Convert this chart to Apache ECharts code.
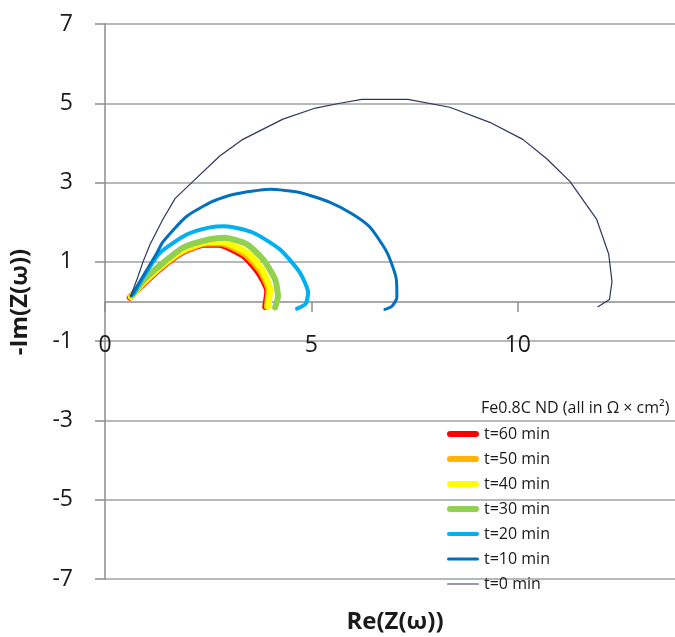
<!DOCTYPE html>
<html>
<head>
<meta charset="utf-8">
<script src="https://cdn.jsdelivr.net/npm/echarts@6/dist/echarts.min.js"></script>
<style>
  html, body { margin: 0; padding: 0; background: #fff; }
  #main { width: 675px; height: 637px; }
</style>
</head>
<body>
<div id="main"></div>
<script>
// Nyquist data, [Re, -Im] in ohm*cm2
var names = ['t=60 min', 't=50 min', 't=40 min', 't=30 min', 't=20 min', 't=10 min', 't=0 min']
var colors = ['#ff0000', '#ffb400', '#ffff00', '#92d050', '#00b0f0', '#0070c0', '#2e3560']
var widths = [6, 6, 6, 6, 4, 3, 1.2]

var t60 = [[0.6, 0.1], [0.95, 0.46], [1.4, 0.88], [1.9, 1.25], [2.4, 1.43], [2.75, 1.43], [3.35, 1.15], [3.72, 0.72], [3.93, 0.26], [3.88, -0.14]]
var t50 = [[0.62, 0.11], [0.95, 0.48], [1.4, 0.9], [1.9, 1.27], [2.45, 1.46], [2.8, 1.46], [3.4, 1.18], [3.76, 0.76], [3.96, 0.28], [3.92, -0.13]]
var t40 = [[0.63, 0.12], [0.95, 0.5], [1.4, 0.93], [1.9, 1.3], [2.5, 1.5], [2.85, 1.5], [3.44, 1.23], [3.8, 0.81], [4.0, 0.3], [3.95, -0.13]]
var t30 = [[0.65, 0.15], [0.95, 0.55], [1.41, 0.98], [1.89, 1.36], [2.54, 1.57], [2.9, 1.61], [3.44, 1.44], [3.83, 1.06], [4.12, 0.56], [4.19, 0.13], [4.12, -0.15]]
var t20 = [[0.7, 0.2], [0.95, 0.65], [1.33, 1.23], [1.98, 1.69], [2.54, 1.87], [2.9, 1.9], [3.58, 1.74], [4.24, 1.31], [4.72, 0.73], [4.92, 0.22], [4.86, -0.06], [4.65, -0.18]]
var t10 = [[0.65, 0.15], [0.9, 0.6], [1.26, 1.23], [1.4, 1.5], [1.98, 2.15], [2.62, 2.53], [3.1, 2.7], [4.0, 2.83], [4.72, 2.75], [5.45, 2.5], [6.0, 2.2], [6.42, 1.87], [6.83, 1.24], [7.05, 0.6], [7.07, 0.1], [6.95, -0.12], [6.78, -0.2]]
var t0 = [[0.62, 0.13], [0.8, 0.63], [0.92, 1.0], [1.09, 1.44], [1.4, 2.07], [1.7, 2.6], [2.1, 3.0], [2.78, 3.67], [3.34, 4.09], [4.31, 4.6], [5.1, 4.88], [5.69, 5.0], [6.22, 5.1], [7.34, 5.1], [8.35, 4.9], [9.32, 4.52], [10.12, 4.09], [10.7, 3.6], [11.26, 3.03], [11.91, 2.07], [12.2, 1.2], [12.28, 0.5], [12.22, 0.05], [11.94, -0.13]]

var allData = [t60, t50, t40, t30, t20, t10, t0]

var font = 'Open Sans'
var myChart = echarts.init(document.getElementById('main'))

// legend icon = a bar as thick as the series line
function barIcon(w) {
  var h = Math.max(w, 1)
  var r = h / 2
  return 'path://M' + r + ',0 L' + (32 - r) + ',0 A' + r + ',' + r + ' 0 0 1 ' + (32 - r) + ',' + h +
    ' L' + r + ',' + h + ' A' + r + ',' + r + ' 0 0 1 ' + r + ',0 Z'
}

var series = allData.map(function (d, i) {
  return {
    name: names[i],
    type: 'line',
    data: d,
    symbol: 'none',
    smooth: i === 6 ? false : 0.2,
    lineStyle: { color: colors[i], width: widths[i], cap: 'round', join: 'round' },
    itemStyle: { color: colors[i] }
  }
})

var option = {
  animation: false,
  grid: { left: 105, top: 24, width: 578, height: 555, outerBoundsMode: 'none', containLabel: false },
  xAxis: {
    type: 'value',
    min: 0,
    max: 14,
    interval: 5,
    position: 'bottom',
    offset: -277, // axis sits on the zero line
    axisLine: { onZero: false, lineStyle: { color: '#8c8c8c', width: 1.5 } },
    axisTick: { show: true, length: 10, lineStyle: { color: '#8c8c8c', width: 1.5 } },
    axisLabel: { margin: 32, fontSize: 23, color: '#1a1a1a', fontFamily: font, showMaxLabel: false },
    splitLine: { show: false }
  },
  yAxis: {
    type: 'value',
    min: -7,
    max: 7,
    interval: 2,
    axisLine: { show: true, lineStyle: { color: '#8c8c8c', width: 1.5 } },
    axisTick: { show: true, length: 10, lineStyle: { color: '#8c8c8c', width: 1.5 } },
    axisLabel: { margin: 32, fontSize: 23, color: '#1a1a1a', fontFamily: font },
    splitLine: { show: true, lineStyle: { color: '#a0a0a0', width: 1.5 } }
  },
  legend: {
    orient: 'vertical',
    left: 442,
    top: 421,
    itemWidth: 32,
    itemHeight: 14,
    itemGap: 9,
    textStyle: { fontSize: 16, lineHeight: 14, color: '#1a1a1a', fontFamily: font },
    data: names.map(function (n, i) {
      return { name: n, icon: barIcon(widths[i]) }
    })
  },
  graphic: [
    {
      type: 'text', left: 481, top: 400,
      style: { text: 'Fe0.8C ND (all in Ω × cm²)', fontSize: 16, fill: '#1a1a1a', fontFamily: font }
    },
    {
      type: 'text', x: 395, y: 622,
      style: { text: 'Re(Z(ω))', fontSize: 24, fontWeight: 'bold', fill: '#1a1a1a', fontFamily: font, align: 'center', verticalAlign: 'middle' }
    },
    {
      type: 'text', x: 20, y: 302, rotation: Math.PI / 2,
      style: { text: '-Im(Z(ω))', fontSize: 24, fontWeight: 'bold', fill: '#1a1a1a', fontFamily: font, align: 'center', verticalAlign: 'middle' }
    }
  ],
  series: series
}

myChart.setOption(option)
</script>
</body>
</html>
